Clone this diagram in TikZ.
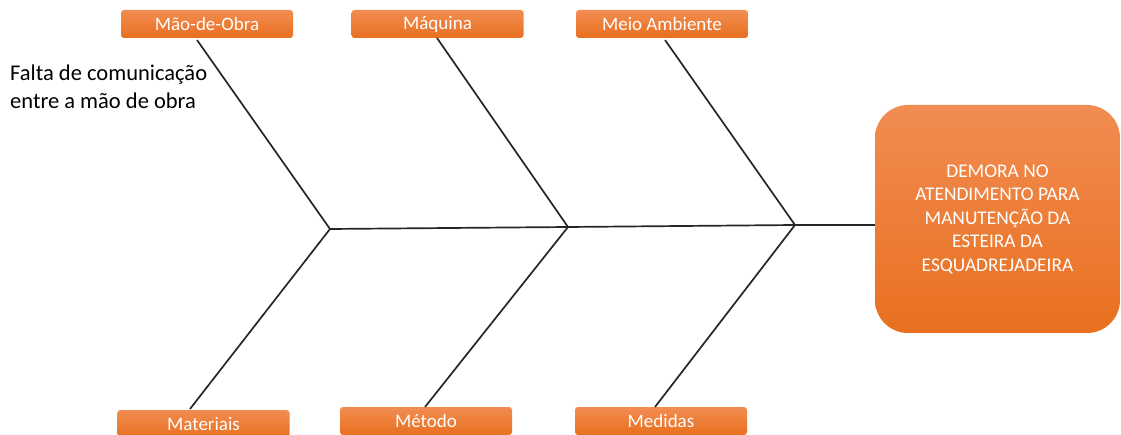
\documentclass[tikz,border=0pt]{standalone}
\usepackage{fontspec}
\setmainfont{Carlito}
\usetikzlibrary{calc}
\definecolor{boxtop}{HTML}{F28C52}
\definecolor{boxbot}{HTML}{E8701F}
\definecolor{bone}{HTML}{262626}
\tikzset{
  cause/.style={rectangle, rounded corners=3pt, top color=boxtop, bottom color=boxbot,
    minimum width=172pt, minimum height=28pt, inner sep=0pt,
    text=white, font=\fontsize{19}{21}\selectfont},
  effect/.style={rectangle, rounded corners=33pt, top color=boxtop, bottom color=boxbot,
    minimum width=245pt, minimum height=228pt, inner sep=0pt, align=center,
    text=white, font=\fontsize{19.4}{23.5}\selectfont},
  bonestyle/.style={draw=bone, line width=1.7pt},
  note/.style={align=left, anchor=north west, inner sep=0pt,
    font=\fontsize{22.5}{28}\selectfont}
}
\begin{document}
\begin{tikzpicture}[x=1pt,y=-1pt]
\useasboundingbox (0,0) rectangle (1121,435);

% cause boxes
\node[cause] (mdo) at (207,24) {Mão-de-Obra};
\node[cause] (maq) at (437.5,24) {Máquina};
\node[cause] (mam) at (662,24) {Meio Ambiente};
\node[cause] (mat) at (203.5,424) {Materiais};
\node[cause] (met) at (426,421) {Método};
\node[cause] (med) at (661,421) {Medidas};

% effect box
\node[effect] (head) at (997.5,219) {DEMORA NO\\ATENDIMENTO PARA\\MANUTENÇÃO DA\\ESTEIRA DA\\ESQUADREJADEIRA};

% note
\node[note] (nota) at (10,65) {Falta de comunicação\\entre a mão de obra};

% joints on the spine
\coordinate (J1) at (330,229);
\coordinate (J2) at (568,227);
\coordinate (J3) at (795,225);

% bone ends near the boxes
\coordinate (T1) at (197,40);
\coordinate (T2) at (437,38);
\coordinate (T3) at (665,40);
\coordinate (B1) at (190,409);
\coordinate (B2) at (425,407);
\coordinate (B3) at (655,407);

% spine
\draw[bonestyle] (J1) -- (J2) -- (J3) -- (J3 -| head.west);

% bones
\draw[bonestyle] (T1) -- (J1) -- (B1);
\draw[bonestyle] (T2) -- (J2) -- (B2);
\draw[bonestyle] (T3) -- (J3) -- (B3);
\end{tikzpicture}
\end{document}
